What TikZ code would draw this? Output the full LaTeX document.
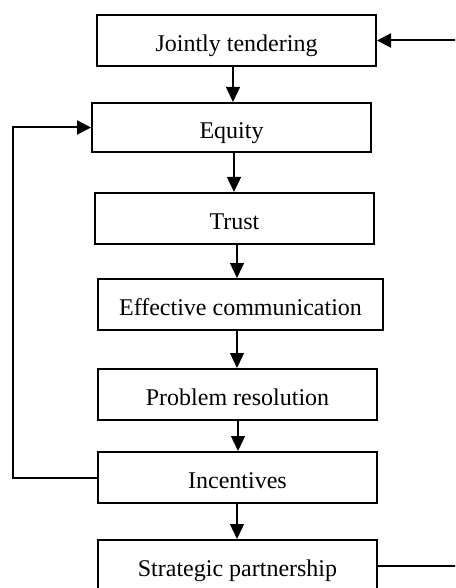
\documentclass[tikz,border=0pt]{standalone}
\usepackage{fontspec}
\setmainfont{Liberation Serif}
\usetikzlibrary{arrows.meta}
\begin{document}
\begin{tikzpicture}[x=0.5pt,y=-0.5pt,
  stepbox/.style={draw,line width=1pt,minimum width=139.5pt,minimum height=25.5pt,inner sep=0pt,text height=11pt,text depth=0pt,font=\fontsize{12}{14}\selectfont},
  arr/.style={line width=0.65pt,-{Triangle[length=7.5pt,width=7pt]}},
  fb/.style={line width=1pt,-{Triangle[length=7pt,width=7pt]}}]
\useasboundingbox (0,0) rectangle (455,588);
\clip (0,0) rectangle (455,588);
\node[stepbox] (b1) at (236.5,40.5) {Jointly tendering};
\node[stepbox,minimum height=24.5pt] (b2) at (231.5,127.5) {Equity};
\node[stepbox] (b3) at (234.5,218.5) {Trust};
\node[stepbox,minimum width=142.5pt] (b4) at (240.5,304.5) {Effective communication};
\node[stepbox] (b5) at (237.5,394.5) {Problem resolution};
\node[stepbox] (b6) at (237.5,477.5) {Incentives};
\node[stepbox] (b7) at (237.5,565.5) {Strategic partnership};
\draw[arr] (233,0 |- b1.south) -- (233,0 |- b2.north);
\draw[arr] (234,0 |- b2.south) -- (234,0 |- b3.north);
\draw[arr] (237,0 |- b3.south) -- (237,0 |- b4.north);
\draw[arr] (237,0 |- b4.south) -- (237,0 |- b5.north);
\draw[arr] (238,0 |- b5.south) -- (238,0 |- b6.north);
\draw[arr] (237,0 |- b6.south) -- (237,0 |- b7.north);
\draw[fb] (b6.west) -- (13,0 |- b6.west) -- (13,0 |- b2.west) -- (b2.west);
\draw[fb] (b7.east) -- (470,0 |- b7.east) -- (470,0 |- b1.east) -- (b1.east);
\end{tikzpicture}
\end{document}
